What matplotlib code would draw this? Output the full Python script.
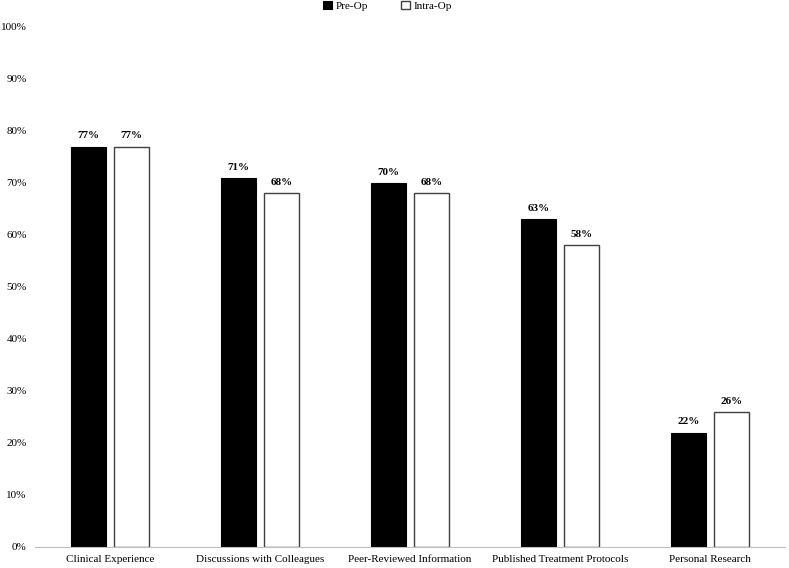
import numpy as np
import matplotlib
matplotlib.use('Agg')
import matplotlib.pyplot as plt
from matplotlib.ticker import PercentFormatter

categories = ['Clinical Experience', 'Discussions with Colleagues', 'Peer-Reviewed Information',
              'Published Treatment Protocols', 'Personal Research']
pre_op = [77, 71, 70, 63, 22]
intra_op = [77, 68, 68, 58, 26]

plt.rcParams['font.family'] = ['Liberation Serif', 'DejaVu Serif']

fig = plt.figure(figsize=(7.89, 5.68), dpi=100)
ax = fig.add_axes([35/789, 1-547/568, 750/789, 520/568])

x = np.arange(len(categories))
w = 0.233
off = 0.143
b1 = ax.bar(x - off, pre_op, w, color='black', edgecolor='black', linewidth=0.8, label='Pre-Op')
b2 = ax.bar(x + off, intra_op, w, color='white', edgecolor='#404040', linewidth=1.0, label='Intra-Op')

for bars, vals in ((b1, pre_op), (b2, intra_op)):
    for b, v in zip(bars, vals):
        ax.text(b.get_x() + b.get_width()/2, v + 1.2, f'{v}%', ha='center', va='bottom',
                fontsize=8, fontweight='bold')

ax.set_xlim(-0.5, len(categories) - 0.5)
ax.set_ylim(0, 100)
ax.set_yticks(range(0, 101, 10))
ax.yaxis.set_major_formatter(PercentFormatter(decimals=0))
ax.set_xticks(x)
ax.set_xticklabels(categories)
ax.tick_params(axis='both', length=0, labelsize=8)
ax.tick_params(axis='x', pad=6)
ax.tick_params(axis='y', pad=6)
for s in ('top', 'right', 'left'):
    ax.spines[s].set_visible(False)
ax.spines['bottom'].set_color('#bfbfbf')

fig.legend(loc='upper center', bbox_to_anchor=(0.491, 1.012), ncol=2, frameon=False, fontsize=8,
           handlelength=0.8, handleheight=0.8, handletextpad=0.3, columnspacing=3.0,
           borderpad=0.2)

fig.savefig('out.png', dpi=100)
